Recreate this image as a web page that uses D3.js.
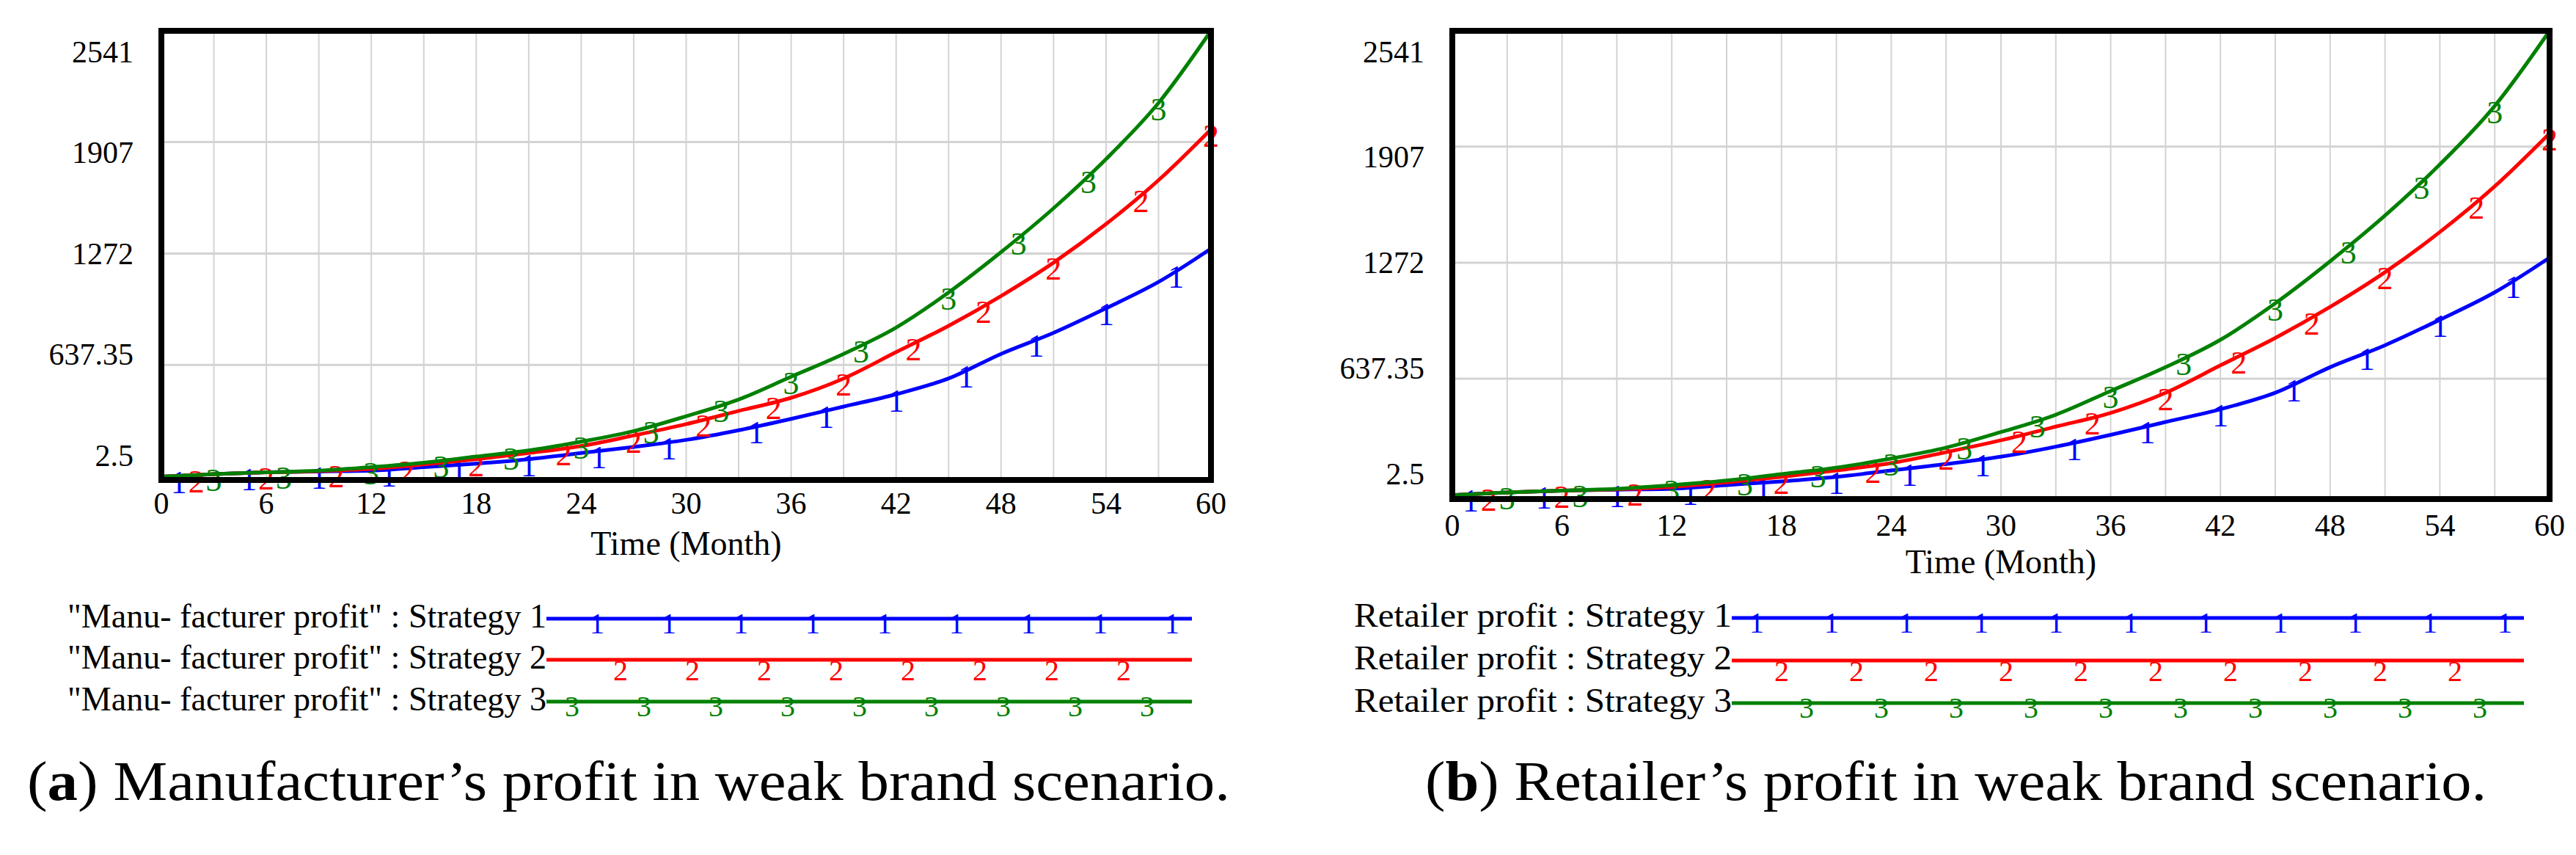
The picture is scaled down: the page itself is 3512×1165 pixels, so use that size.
<!DOCTYPE html>
<html><head><meta charset="utf-8">
<script src="https://cdn.jsdelivr.net/npm/d3@7"></script>
<style>body{margin:0;background:#fff}</style></head>
<body><svg id="c" width="3512" height="1165"></svg>
<script>
const months = [0,3,6,9,12,15,18,21,24,27,30,33,36,39,42,45,48,51,54,57,60];
const manuS1 = [0,15,25,30,35,55,75,100,135,170,210,265,330,400,470,560,700,820,960,1110,1300];
const manuS2 = [0,15,25,32,45,70,100,135,175,235,300,375,450,560,710,860,1030,1220,1440,1690,1980];
const manuS3 = [0,15,25,35,55,80,115,150,200,260,345,440,570,700,850,1050,1280,1530,1810,2130,2541];
const retS1 = [0,15,25,30,35,55,75,100,135,170,210,265,330,400,470,560,700,820,960,1110,1300];
const retS2 = [0,15,25,32,45,70,100,135,175,235,300,375,450,560,710,860,1030,1220,1440,1690,1980];
const retS3 = [0,15,25,35,55,80,115,150,200,260,345,440,570,700,850,1050,1280,1530,1810,2130,2541];
const yTickLabels = ["2.5","637.35","1272","1907","2541"];
const yTickValues = [2.5,637.35,1272,1907,2541];
const xTicks = [0,6,12,18,24,30,36,42,48,54,60];
const mark1 = [1,5,9,13,17,21,25,29,34,38,42,46,50,54,58];
const mark2 = [2,6,10,14,18,23,27,31,35,39,43,47,51,56,60];
const mark3 = [3,7,12,16,20,24,28,32,36,40,45,49,53,57];
const colors = ["#0000ff","#ff0000","#008000"];
const manuLegend = ['"Manu- facturer profit" : Strategy 1','"Manu- facturer profit" : Strategy 2','"Manu- facturer profit" : Strategy 3'];
const retLegend = ['Retailer profit : Strategy 1','Retailer profit : Strategy 2','Retailer profit : Strategy 3'];

const svg = d3.select("#c");
const FONT = "Liberation Serif, DejaVu Serif, serif";

function panel(o){
  const g = svg.append("g");
  const x = d3.scaleLinear().domain([0,60]).range([o.left,o.right]);
  const y = d3.scaleLinear().domain([2.5,2541]).range([o.y0,o.top]);
  g.selectAll(".vg").data(d3.range(3,60,3)).join("line")
    .attr("x1",d=>x(d)).attr("x2",d=>x(d)).attr("y1",o.top).attr("y2",o.bottom)
    .attr("stroke","#d3d3d3").attr("stroke-width",2);
  g.selectAll(".hg").data(yTickValues.slice(1,4)).join("line")
    .attr("x1",o.left).attr("x2",o.right).attr("y1",d=>y(d)).attr("y2",d=>y(d))
    .attr("stroke","#d3d3d3").attr("stroke-width",3);
  const ly = d3.scaleLinear().domain([0,4]).range([o.lab0,o.lab4]);
  g.selectAll(".yl").data(yTickLabels).join("text")
    .attr("x",o.left-38).attr("y",(d,i)=>ly(i)).attr("dy","0.35em")
    .attr("text-anchor","end").attr("font-family",FONT).attr("font-size",42).text(d=>d);
  g.selectAll(".xl").data(xTicks).join("text")
    .attr("x",d=>x(d)).attr("y",o.xlab).attr("dy","0.35em")
    .attr("text-anchor","middle").attr("font-family",FONT).attr("font-size",42).text(d=>d);
  g.append("text").attr("x",(o.left+o.right)/2).attr("y",o.title).attr("dy","0.35em")
    .attr("text-anchor","middle").attr("font-family",FONT).attr("font-size",46).text("Time (Month)");
  const line = d3.line().x((d,i)=>x(months[i])).y(d=>y(d)).curve(d3.curveMonotoneX);
  const marks = [mark1,mark2,mark3];
  o.series.forEach((s,k)=>{
    g.append("path").attr("d",line(s)).attr("fill","none").attr("stroke",colors[k]).attr("stroke-width",5);
    const interp = d3.scaleLinear().domain(months).range(s);
    g.selectAll(".m"+k).data(marks[k]).join("text")
      .attr("x",d=>x(d)).attr("y",d=>y(interp(d))+8).attr("dy","0.35em")
      .attr("text-anchor","middle").attr("font-family",FONT).attr("font-size",44)
      .attr("fill",colors[k]).text(k+1);
  });
  g.append("rect").attr("x",o.left).attr("y",o.top).attr("width",o.right-o.left).attr("height",o.bottom-o.top)
    .attr("fill","none").attr("stroke","#000").attr("stroke-width",8);
  o.legend.forEach((t,k)=>{
    const ry = o.legY[k];
    g.append("text").attr("x",o.legTextEnd).attr("y",ry).attr("text-anchor","end")
      .attr("dy","0.25em").attr("font-family",FONT).attr("font-size",46)
      .attr("textLength",o.legTextEnd-o.legTextStart).attr("lengthAdjust","spacingAndGlyphs").text(t);
    g.append("line").attr("x1",o.legTextEnd).attr("x2",o.legLineEnd).attr("y1",ry).attr("y2",ry)
      .attr("stroke",colors[k]).attr("stroke-width",5);
    const lm = o.legMarks[k];
    g.selectAll(".lm"+k).data(d3.range(lm[2])).join("text")
      .attr("x",i=>lm[0]+i*lm[1]).attr("y",ry+(k==1?14:6)).attr("dy","0.35em")
      .attr("text-anchor","middle").attr("font-family",FONT).attr("font-size",40)
      .attr("fill",colors[k]).text(k+1);
  });
  const c = g.append("text").attr("x",o.capX).attr("y",1090).attr("font-family",FONT).attr("font-size",76)
    .attr("textLength",o.capW).attr("lengthAdjust","spacingAndGlyphs");
  c.append("tspan").text("(");
  c.append("tspan").attr("font-weight","bold").text(o.capL);
  c.append("tspan").text(") "+o.cap);
}

panel({left:220,right:1651,top:42,bottom:654,y0:649,lab0:620,lab4:70,xlab:685,title:740,
  series:[manuS1,manuS2,manuS3],legend:manuLegend,legTextStart:92,legTextEnd:745,legLineEnd:1625,
  legY:[843,899,956],legMarks:[[814,98,9],[846,98,8],[780,98,9]],
  capX:37,capW:1640,capL:"a",cap:"Manufacturer’s profit in weak brand scenario."});
panel({left:1980,right:3476,top:42,bottom:680,y0:674,lab0:645,lab4:70,xlab:715,title:765,
  series:[retS1,retS2,retS3],legend:retLegend,legTextStart:1846,legTextEnd:2361,legLineEnd:3441,
  legY:[842,900,958],legMarks:[[2395,102,11],[2429,102,10],[2463,102,10]],
  capX:1943,capW:1447,capL:"b",cap:"Retailer’s profit in weak brand scenario."});
</script></body></html>
